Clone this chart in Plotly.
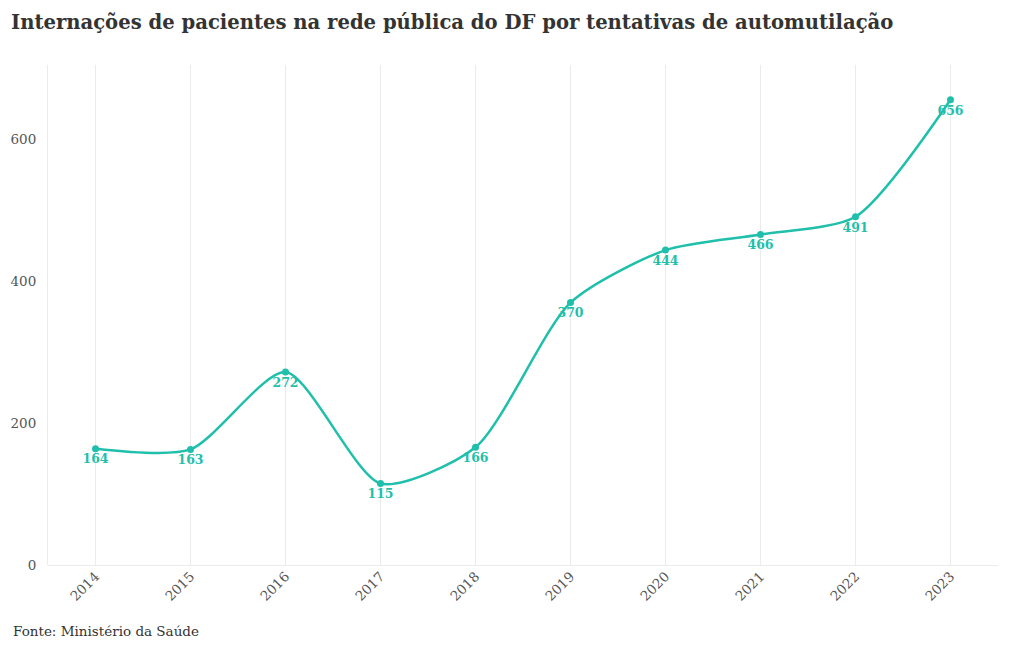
import plotly.graph_objects as go

years = [2014, 2015, 2016, 2017, 2018, 2019, 2020, 2021, 2022, 2023]
values = [164, 163, 272, 115, 166, 370, 444, 466, 491, 656]
labels = [str(v) for v in values]

teal = "#1fbfab"
font_family = "DejaVu Serif, Liberation Serif, serif"

fig = go.Figure()
fig.add_trace(go.Scatter(
    x=years, y=values,
    mode="lines+markers+text",
    line=dict(color=teal, width=2.5, shape="spline", smoothing=0.7),
    marker=dict(color=teal, size=7),
    text=labels,
    texttemplate="<b>%{text}</b>",
    textposition="bottom center",
    textfont=dict(color=teal, size=12.5, family=font_family),
    hoverinfo="x+y",
    cliponaxis=False,
))

fig.update_layout(
    width=1020, height=650,
    paper_bgcolor="white", plot_bgcolor="white",
    margin=dict(l=40, r=30, t=57, b=93, autoexpand=False),
    showlegend=False,
    font=dict(family=font_family, color="#555555", size=14),
    title=dict(
        text="<b>Internações de pacientes na rede pública do DF por tentativas de automutilação</b>",
        x=3 / 1020, xanchor="left", xref="container",
        y=1 - 14 / 650, yanchor="middle", yref="container",
        font=dict(size=19.6, color="#333333", family=font_family),
    ),
    annotations=[dict(
        text="Fonte: Ministério da Saúde",
        xref="paper", yref="paper",
        x=-0.0389, y=-0.132, xanchor="left", yanchor="middle",
        showarrow=False,
        font=dict(size=13.5, color="#333333", family=font_family),
    )],
)

fig.update_xaxes(
    range=[2013.5, 2023.5],
    tickmode="array", tickvals=years, ticktext=[str(y) for y in years],
    tickangle=-45,
    showgrid=True, gridcolor="#ebebeb", gridwidth=1,
    zeroline=False, showline=False, ticks="",
    tickfont=dict(size=13.5, color="#555555"),
)
fig.update_yaxes(
    range=[0, 705],
    tickvals=[0, 200, 400, 600],
    showgrid=False,
    zeroline=True, zerolinecolor="#ebebeb", zerolinewidth=1,
    showline=True, linecolor="#ebebeb", linewidth=1,
    ticks="", ticklabelstandoff=8,
    tickfont=dict(size=13.5, color="#555555"),
)

fig.write_html("out.html")
